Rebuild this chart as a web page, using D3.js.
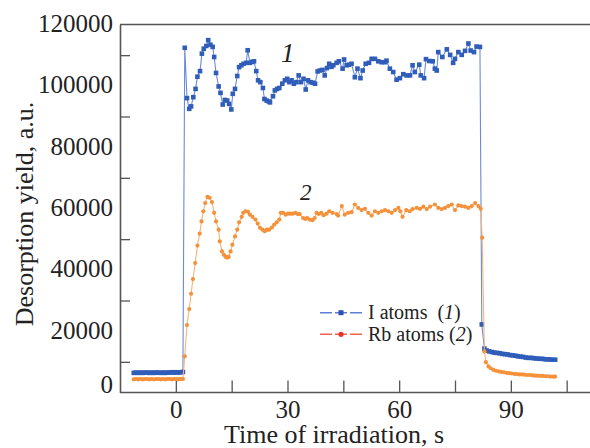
<!DOCTYPE html>
<html>
<head>
<meta charset="utf-8">
<script src="https://cdn.jsdelivr.net/npm/d3@7"></script>
<style>
  body { margin: 0; background: #fff; }
  svg { display: block; }
  text { font-family: "Liberation Serif", "Times New Roman", serif; fill: #222; }
</style>
</head>
<body>
<div id="chart"></div>
<script>

  // I atoms (1): [time, yield]
  var iAtoms = [
    [-11.3,6400],[-10.7,6500],[-10.1,6400],[-9.5,6500],[-8.9,6400],[-8.3,6500],[-7.7,6500],[-7.1,6400],
    [-6.5,6500],[-5.9,6400],[-5.3,6500],[-4.7,6500],[-4.1,6400],[-3.5,6500],[-2.9,6400],[-2.3,6500],
    [-1.7,6500],[-1.1,6600],[-0.5,6500],[0.1,6600],[0.7,6500],[1.3,6600],[1.9,6700],
    [2.4,112400],[3.0,96000],[3.6,92500],[4.1,93300],[4.7,96300],[5.3,99000],[5.8,103000],[6.5,104800],
    [7.0,110500],[7.5,112100],[8.2,113000],[8.7,114900],[9.3,113400],[9.9,112700],[10.3,109400],[10.8,104200],
    [11.5,99800],[12.0,97700],[12.6,93900],[13.2,95400],[13.8,95200],[14.3,94100],[14.9,92300],[15.3,97400],
    [15.9,99000],[16.5,103200],[17.0,106100],[17.6,106700],[18.2,107200],[18.9,107500],[19.3,111600],[19.9,107500],
    [20.5,107800],[21.0,108000],[21.6,104800],[22.1,101800],[22.7,101200],[23.4,99300],[23.8,95700],[24.4,95200],
    [25.0,94900],[25.3,94600],[26.1,96600],[26.6,98500],[27.2,99000],[27.8,99300],[28.6,100700],[29.3,101800],
    [29.9,102300],[30.5,101200],[31.1,101800],[31.7,100700],[32.4,101200],[33.0,103400],[33.6,101200],[34.3,102300],
    [34.9,98800],[35.5,101800],[36.2,101200],[36.8,101000],[37.4,100700],[38.1,104700],[38.7,105000],[39.4,105200],
    [40.0,103400],[40.6,105800],[41.2,107200],[41.8,106200],[42.3,106700],[43.2,107500],[43.8,108000],[44.8,105600],
    [45.2,108600],[45.9,106700],[46.5,106900],[47.2,107200],[48.1,102800],[48.8,105600],[49.6,102500],[50.2,105000],
    [51.0,107200],[51.9,107500],[52.6,108800],[53.5,108800],[54.4,108000],[55.3,107700],[56.2,107700],[56.6,108200],
    [57.5,105600],[58.4,104500],[59.3,102000],[60.2,102500],[61.1,103800],[62.0,103400],[62.9,103400],[63.6,106700],
    [64.2,104500],[65.4,106900],[65.8,103400],[66.7,102500],[67.2,108700],[68.1,108100],[69.0,108000],[69.6,105600],
    [70.1,105000],[70.5,111000],[71.6,109400],[72.8,111900],[73.7,110100],[74.5,107500],[75.0,108800],[75.9,111000],
    [76.8,110100],[77.7,111400],[78.6,113800],[79.2,111500],[80.1,111000],[80.8,112800],[81.7,112700],
    [82.2,22200],[82.9,14300],[83.5,13700],[84.2,13400],[84.9,13200],[85.6,13000],[86.3,12900],[87.0,12800],
    [87.7,12600],[88.4,12500],[89.1,12400],[89.8,12200],[90.5,12100],[91.2,12000],[91.9,11800],[92.6,11700],
    [93.3,11600],[94.0,11400],[94.7,11300],[95.4,11300],[96.1,11200],[96.8,11100],[97.5,11000],[98.2,11000],
    [98.9,10900],[99.6,10800],[100.3,10800],[101.0,10700],[101.9,10700]
  ];

  // Rb atoms (2): [time, yield]
  var rbAtoms = [
    [-11.3,4300],[-10.7,4400],[-10.1,4300],[-9.5,4400],[-8.9,4300],[-8.3,4400],[-7.7,4400],[-7.1,4300],
    [-6.5,4400],[-5.9,4300],[-5.3,4400],[-4.7,4400],[-4.1,4300],[-3.5,4400],[-2.9,4300],[-2.3,4400],
    [-1.7,4400],[-1.1,4300],[-0.5,4400],[0.1,4400],[0.7,4300],[1.3,4400],[1.9,4400],
    [2.4,11800],[3.0,22000],[3.6,27200],[4.1,32200],[4.6,37000],[5.2,42200],[5.8,47900],[6.4,51800],
    [6.9,55800],[7.4,59100],[7.9,61800],[8.5,63800],[9.1,63500],[9.7,62100],[10.3,58600],[10.8,55800],
    [11.5,53100],[11.8,49300],[12.4,46000],[12.9,44900],[13.4,44200],[13.8,44000],[14.2,44200],[14.7,46000],
    [15.2,48200],[15.9,50900],[16.5,53100],[17.0,55500],[17.7,57300],[18.1,58600],[18.7,59100],[19.4,58900],
    [19.9,58000],[20.6,57300],[21.4,56400],[22.0,55100],[22.6,53700],[23.3,53100],[23.9,52600],[24.5,53100],
    [25.1,53100],[25.8,53800],[26.4,54700],[27.1,55500],[27.8,56400],[28.2,58600],[28.8,58600],[29.5,58000],
    [30.1,58300],[30.7,58300],[31.4,58300],[32.1,58600],[32.7,58200],[33.3,58200],[34.2,56900],[34.8,56600],
    [35.3,56900],[36.0,56400],[36.7,56200],[37.3,56900],[37.8,58600],[38.4,58200],[39.1,58600],[39.7,57800],
    [40.5,58300],[41.2,59100],[42.1,58600],[43.2,58200],[43.6,57700],[44.6,60800],[45.4,58000],[46.3,58600],
    [47.2,58800],[48.1,61300],[49.0,60200],[49.9,59500],[50.8,59900],[51.7,58600],[52.6,57700],[53.5,59100],
    [54.4,58600],[55.3,59100],[56.2,59500],[57.1,59100],[58.0,58600],[58.9,59500],[59.8,60200],[60.3,59100],
    [60.9,57300],[61.9,59500],[62.8,59100],[63.6,59800],[64.7,60200],[65.6,59900],[66.5,60600],[67.4,59800],
    [68.3,60600],[69.6,61300],[70.5,60200],[71.4,59800],[72.3,60200],[73.2,60800],[74.1,61300],[75.0,59500],
    [75.9,61000],[76.8,60800],[77.7,60600],[78.6,60200],[79.5,60800],[80.4,61800],[81.3,60800],[81.9,59900],
    [82.3,50500],[82.9,13400],[83.3,9900],[84.0,8500],[84.6,7900],[85.3,7400],[86.0,7100],[86.7,6900],
    [87.4,6700],[88.1,6600],[88.8,6400],[89.5,6300],[90.2,6200],[90.9,6100],[91.6,6000],[92.3,5900],
    [93.0,5900],[93.7,5800],[94.4,5700],[95.1,5700],[95.8,5600],[96.5,5500],[97.2,5500],[97.9,5400],
    [98.6,5400],[99.3,5300],[100.0,5300],[100.7,5200],[101.4,5200],[101.9,5200]
  ];

  var xTicks = [0, 15, 30, 45, 60, 75, 90, 105];
  var xLabels = [0, 30, 60, 90];
  var yTicks = [10000, 30000, 50000, 70000, 90000, 110000];
  var yLabels = [0, 20000, 40000, 60000, 80000, 100000, 120000];
  var legendNames = ["I atoms", "Rb atoms"];
  var legendNums = ["1", "2"];

  //=========================================================================
  // Set Dimensions
  //=========================================================================
  var width = 590, height = 448;
  var plotLeft = 120, plotTop = 24.5, plotBottom = 392.5;

  var svg = d3.select("#chart")
    .append("svg")
    .attr("width", width)
    .attr("height", height);

  svg.append("rect").attr("width", width).attr("height", height).attr("fill", "#fff");

  var x = d3.scaleLinear().domain([-15, 111]).range([plotLeft, 589]);
  var y = d3.scaleLinear().domain([0, 120000]).range([plotBottom, plotTop]);

  //=========================================================================
  // Axes
  //=========================================================================
  var axisColor = "#555";

  var gx = svg.append("g")
    .attr("transform", "translate(0," + plotBottom + ")")
    .call(d3.axisBottom(x)
      .tickValues(xTicks)
      .tickSizeInner(-12)
      .tickSizeOuter(0)
      .tickPadding(8)
      .tickFormat(function(d) { return xLabels.indexOf(d) >= 0 ? d : ""; }));
  gx.select(".domain").attr("d", "M" + plotLeft + ",0H" + width).attr("stroke", axisColor).attr("stroke-width", 1.6);
  gx.selectAll(".tick line").attr("stroke", axisColor).attr("stroke-width", 1.3);
  gx.selectAll("text").attr("font-size", 25).attr("fill", "#222")
    .attr("font-family", "Liberation Serif");

  var gy = svg.append("g")
    .attr("transform", "translate(" + plotLeft + ",0)")
    .call(d3.axisLeft(y)
      .tickValues(yTicks)
      .tickSizeInner(-10)
      .tickSizeOuter(0)
      .tickFormat(""));
  gy.select(".domain").attr("stroke", axisColor).attr("stroke-width", 1.6);
  gy.selectAll(".tick line").attr("stroke", axisColor).attr("stroke-width", 1.3);

  var gyl = svg.append("g")
    .attr("transform", "translate(" + plotLeft + ",0)")
    .call(d3.axisLeft(y)
      .tickValues(yLabels)
      .tickSize(0)
      .tickPadding(7)
      .tickFormat(d3.format("d")));
  gyl.select(".domain").remove();
  gyl.selectAll("text").attr("font-size", 25).attr("fill", "#222")
    .attr("font-family", "Liberation Serif")
    .attr("dy", function(d) { return d === 0 ? "0" : "0.28em"; });

  // top frame line
  svg.append("line")
    .attr("x1", plotLeft).attr("x2", width)
    .attr("y1", plotTop).attr("y2", plotTop)
    .attr("stroke", axisColor).attr("stroke-width", 1.6);

  // axis titles
  svg.append("text")
    .attr("x", 334).attr("y", 443)
    .attr("text-anchor", "middle")
    .attr("font-size", 26)
    .text("Time of irradiation, s");

  svg.append("text")
    .attr("transform", "translate(33,214) rotate(-90)")
    .attr("text-anchor", "middle")
    .attr("font-size", 26)
    .text("Desorption yield, a.u.");

  //=========================================================================
  // Series
  //=========================================================================
  var line = d3.line()
    .x(function(d) { return x(d[0]); })
    .y(function(d) { return y(d[1]); });

  var blueLine = "#6a8bd9", blueMark = "#2f5db9";
  var orangeLine = "#f8b475", orangeMark = "#f4913a";

  svg.append("path").datum(iAtoms)
    .attr("d", line).attr("fill", "none")
    .attr("stroke", blueLine).attr("stroke-width", 1.1);

  svg.append("g").selectAll("rect")
    .data(iAtoms).enter()
    .append("rect")
    .attr("x", function(d) { return x(d[0]) - 2.3; })
    .attr("y", function(d) { return y(d[1]) - 2.3; })
    .attr("width", 4.6).attr("height", 4.6)
    .attr("fill", blueMark);

  svg.append("path").datum(rbAtoms)
    .attr("d", line).attr("fill", "none")
    .attr("stroke", orangeLine).attr("stroke-width", 1.1);

  svg.append("g").selectAll("circle")
    .data(rbAtoms).enter()
    .append("circle")
    .attr("cx", function(d) { return x(d[0]); })
    .attr("cy", function(d) { return y(d[1]); })
    .attr("r", 2.1)
    .attr("fill", orangeMark);

  // curve numbers
  svg.append("text").attr("x", 281).attr("y", 62)
    .attr("font-size", 27).attr("font-style", "italic").text("1");
  svg.append("text").attr("x", 300).attr("y", 200)
    .attr("font-size", 23).attr("font-style", "italic").text("2");

  //=========================================================================
  // Legend
  //=========================================================================
  var legendLine = ["#5d7fd6", "#f2604e"];
  var legendMark = ["#2f4fae", "#e8352c"];

  var lg = svg.append("g").selectAll("g")
    .data(legendNames).enter()
    .append("g")
    .attr("transform", function(d, i) { return "translate(320," + (312.7 + i * 21.6) + ")"; });

  lg.append("line")
    .attr("x1", 0).attr("x2", 42)
    .attr("stroke", function(d, i) { return legendLine[i]; })
    .attr("stroke-width", 1.4)
    .attr("stroke-dasharray", "12,3,12,3,12");

  lg.filter(function(d, i) { return i == 0; })
    .append("rect")
    .attr("x", 18.5).attr("y", -2.5).attr("width", 5).attr("height", 5)
    .attr("fill", legendMark[0]);
  lg.filter(function(d, i) { return i == 1; })
    .append("circle")
    .attr("cx", 21).attr("r", 2.6)
    .attr("fill", legendMark[1]);

  var lt = lg.append("text")
    .attr("x", 48).attr("y", 6.5)
    .attr("font-size", 20)
    .attr("xml:space", "preserve");
  lt.append("tspan").text(function(d, i) { return d + (i == 0 ? "  (" : " ("); });
  lt.append("tspan").attr("font-style", "italic").text(function(d, i) { return legendNums[i]; });
  lt.append("tspan").text(")");

</script>
</body>
</html>
